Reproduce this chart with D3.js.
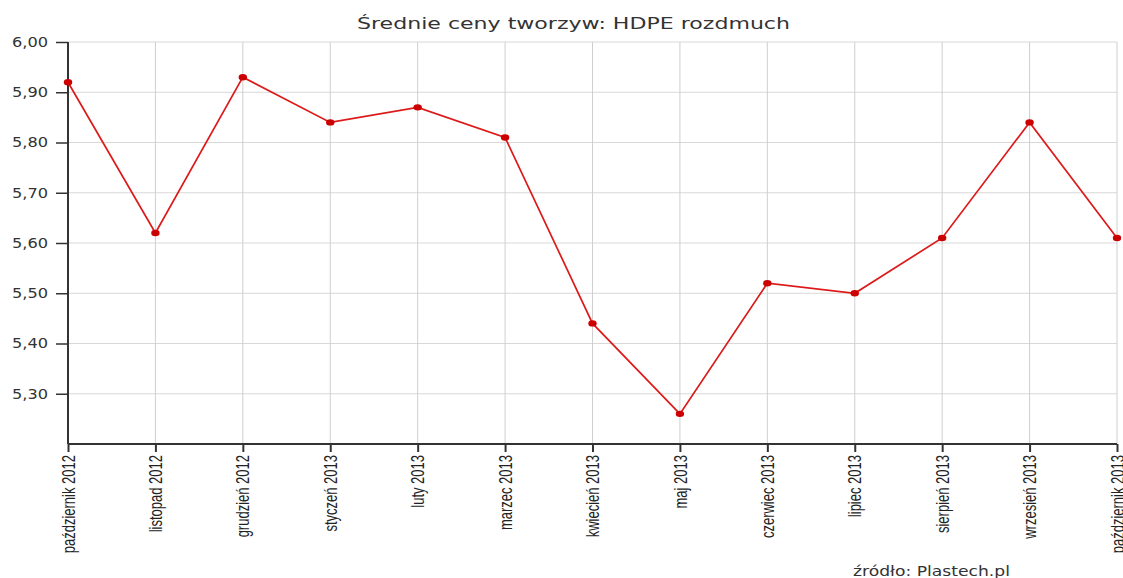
<!DOCTYPE html>
<html>
<head>
<meta charset="utf-8">
<script src="https://cdn.jsdelivr.net/npm/d3@7"></script>
<style>
  body { margin: 0; background: #fff; }
  svg { display: block; }
</style>
</head>
<body>
<svg width="1123" height="578"></svg>
<script>
// dane
var months = ["październik 2012", "listopad 2012", "grudzień 2012", "styczeń 2013", "luty 2013",
              "marzec 2013", "kwiecień 2013", "maj 2013", "czerwiec 2013", "lipiec 2013",
              "sierpień 2013", "wrzesień 2013", "październik 2013"];
var prices = [5.92, 5.62, 5.93, 5.84, 5.87, 5.81, 5.44, 5.26, 5.52, 5.50, 5.61, 5.84, 5.61];
var yTicks = [5.30, 5.40, 5.50, 5.60, 5.70, 5.80, 5.90, 6.00];
var yGrid = [5.20, 5.30, 5.40, 5.50, 5.60, 5.70, 5.80, 5.90, 6.00];

var svg = d3.select("svg"),
    mLeft = 68, mRight = 1117, mTop = 42, mBottom = 444;

var x = d3.scalePoint().domain(months).range([mLeft, mRight]);
var y = d3.scaleLinear().domain([5.20, 6.00]).range([mBottom, mTop]);

var fmt = function(d) { return d3.format(".2f")(d).replace(".", ","); };

// siatka
svg.append("g").selectAll("line")
   .data(yGrid).enter().append("line")
   .attr("x1", mLeft).attr("x2", mRight)
   .attr("y1", d => y(d)).attr("y2", d => y(d))
   .attr("stroke", "#d8d8d8").attr("stroke-width", 1);

svg.append("g").selectAll("line")
   .data(months).enter().append("line")
   .attr("x1", d => x(d)).attr("x2", d => x(d))
   .attr("y1", mTop).attr("y2", mBottom)
   .attr("stroke", "#cfcfcf").attr("stroke-width", 1);

// osie
var yAxis = svg.append("g")
   .attr("transform", "translate(" + mLeft + ",0)")
   .call(d3.axisLeft(y).tickValues(yTicks).tickFormat(fmt).tickSize(12).tickPadding(8));
yAxis.select(".domain").attr("d", "M0," + mTop + "V" + mBottom).attr("stroke", "#333").attr("stroke-width", 2);
yAxis.selectAll(".tick line").attr("stroke", "#333").attr("stroke-width", 1.5);
yAxis.selectAll("text")
   .attr("fill", "#333")
   .attr("textLength", 36)
   .attr("lengthAdjust", "spacingAndGlyphs")
   .style("font-family", "'DejaVu Sans', Verdana, sans-serif")
   .style("font-size", "14px");

var xAxis = svg.append("g")
   .attr("transform", "translate(0," + mBottom + ")")
   .call(d3.axisBottom(x).tickSize(8).tickSizeOuter(0));
xAxis.select(".domain").attr("d", "M" + mLeft + ",0H" + mRight).attr("stroke", "#333").attr("stroke-width", 2);
xAxis.selectAll(".tick line").attr("stroke", "#333").attr("stroke-width", 2);
xAxis.selectAll("text")
   .attr("fill", "#222")
   .attr("transform", "scale(1.35,1) rotate(-90)")
   .attr("text-anchor", "end")
   .attr("x", -11).attr("y", 0).attr("dy", "0.35em")
   .style("font-family", "'Liberation Sans Narrow', 'Arial Narrow', sans-serif")
   .style("font-size", "13px");

// linia
var line = d3.line()
   .x((d, i) => x(months[i]))
   .y(d => y(d));

svg.append("path")
   .datum(prices)
   .attr("d", line)
   .attr("fill", "none")
   .attr("stroke", "#dd1a1a")
   .attr("stroke-width", 1.7);

svg.append("g").selectAll("ellipse")
   .data(prices).enter().append("ellipse")
   .attr("cx", (d, i) => x(months[i]))
   .attr("cy", d => y(d))
   .attr("rx", 4.2).attr("ry", 3.2)
   .attr("fill", "#cc0000");

// tytul i zrodlo
svg.append("text")
   .attr("x", 357).attr("y", 29)
   .attr("textLength", 433)
   .attr("lengthAdjust", "spacingAndGlyphs")
   .attr("fill", "#333")
   .style("font-family", "'DejaVu Sans', Verdana, sans-serif")
   .style("font-size", "16px")
   .text("Średnie ceny tworzyw: HDPE rozdmuch");

svg.append("text")
   .attr("x", 853).attr("y", 576)
   .attr("textLength", 157)
   .attr("lengthAdjust", "spacingAndGlyphs")
   .attr("fill", "#333")
   .style("font-family", "'DejaVu Sans', Verdana, sans-serif")
   .style("font-size", "14px")
   .text("źródło: Plastech.pl");
</script>
</body>
</html>
